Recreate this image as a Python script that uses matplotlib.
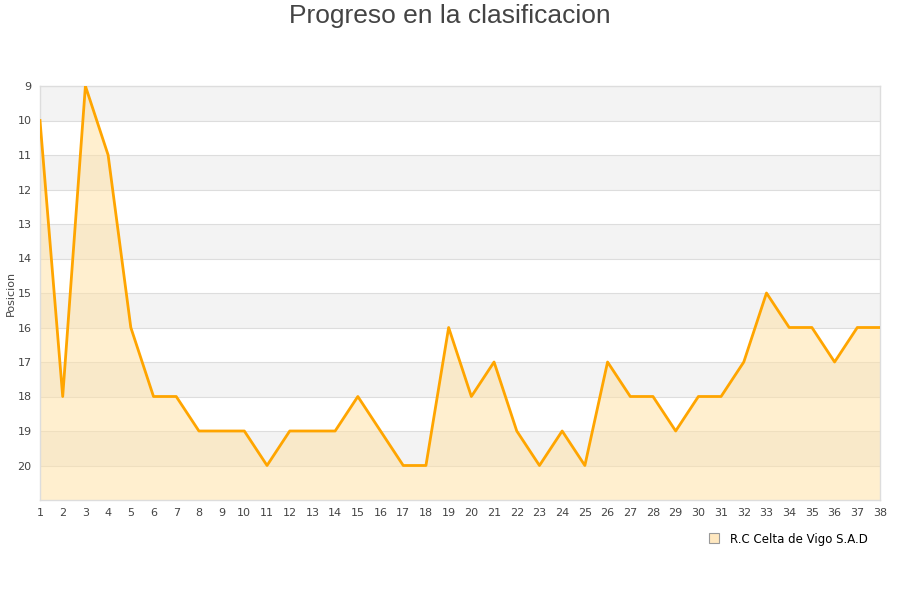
import matplotlib
matplotlib.use("Agg")
import matplotlib.pyplot as plt
from matplotlib.lines import Line2D

jornadas = list(range(1, 39))
posicion = [10, 18, 9, 11, 16, 18, 18, 19, 19, 19, 20, 19, 19, 19, 18, 19, 20, 20, 16, 18,
            17, 19, 20, 19, 20, 17, 18, 18, 19, 18, 18, 17, 15, 16, 16, 17, 16, 16]
y_ticks = list(range(9, 21))
team = "R.C Celta de Vigo S.A.D"
title = "Progreso en la clasificacion"

fig = plt.figure(figsize=(9, 6), dpi=100)
ax = fig.add_axes([40/900, 1-500/600, 840/900, 414/600])

ax.set_xlim(1, 38)
ax.set_ylim(21, 9)

for y0 in range(9, 21, 2):
    ax.axhspan(y0, y0 + 1, color="#f3f3f3", zorder=0, lw=0)
for y in range(10, 21):
    ax.axhline(y, color="#dddddd", lw=0.8, zorder=1)

ax.fill_between(jornadas, posicion, 21, color="#ffe2a8", alpha=0.55, lw=0, zorder=2)
ax.plot(jornadas, posicion, color="#ffa500", lw=2, zorder=3)

ax.set_xticks(jornadas)
ax.set_yticks(y_ticks)
ax.tick_params(axis="both", length=0, labelsize=8, colors="#444444", pad=6)
for s in ax.spines.values():
    s.set_color("#dddddd")
    s.set_linewidth(1)

ax.set_ylabel("Posicion", fontsize=8, color="#444444", labelpad=1)
fig.text(0.5, 1-16/600, title, ha="center", va="center", fontsize=19,
         color="#444444", family="Liberation Sans")

h = Line2D([], [], marker="s", color="none", markerfacecolor="#ffe8c0",
           markeredgecolor="#999999", markersize=7, markeredgewidth=0.8)
fig.legend([h], [team], loc="center", bbox_to_anchor=(785/900, 1-539/600),
           frameon=False, fontsize=8.5, handletextpad=0.4)

fig.savefig("out.png", dpi=100)
